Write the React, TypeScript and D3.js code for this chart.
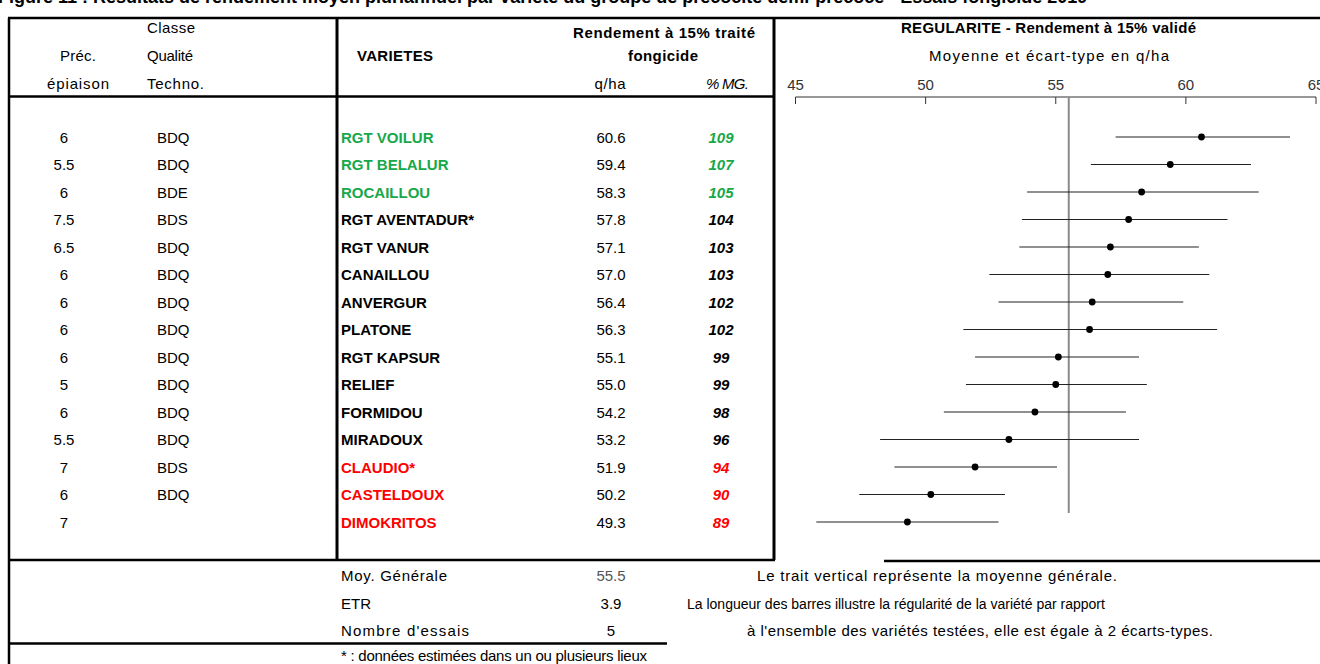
import React from "react";
import * as d3 from "d3";

// ---- data ----
const varietes = [
  "RGT VOILUR", "RGT BELALUR", "ROCAILLOU", "RGT AVENTADUR*", "RGT VANUR",
  "CANAILLOU", "ANVERGUR", "PLATONE", "RGT KAPSUR", "RELIEF",
  "FORMIDOU", "MIRADOUX", "CLAUDIO*", "CASTELDOUX", "DIMOKRITOS",
];
const precEpiaison = ["6", "5.5", "6", "7.5", "6.5", "6", "6", "6", "6", "5", "6", "5.5", "7", "6", "7"];
const classeQualite = ["BDQ", "BDQ", "BDE", "BDS", "BDQ", "BDQ", "BDQ", "BDQ", "BDQ", "BDQ", "BDQ", "BDQ", "BDS", "BDQ", ""];
const rendement = [60.6, 59.4, 58.3, 57.8, 57.1, 57.0, 56.4, 56.3, 55.1, 55.0, 54.2, 53.2, 51.9, 50.2, 49.3];
const pctMG = [109, 107, 105, 104, 103, 103, 102, 102, 99, 99, 98, 96, 94, 90, 89];
// group: 1 = above, 0 = middle, -1 = below
const groupe = [1, 1, 1, 0, 0, 0, 0, 0, 0, 0, 0, 0, -1, -1, -1];
// regularity bars (low / high end, q/ha)
const barBas = [57.3, 56.35, 53.9, 53.7, 53.6, 52.45, 52.8, 51.45, 51.9, 51.55, 50.7, 48.25, 48.8, 47.45, 45.8];
const barHaut = [64.0, 62.5, 62.8, 61.6, 60.5, 60.9, 59.9, 61.2, 58.2, 58.5, 57.7, 58.2, 55.05, 53.05, 52.8];
const axisTicks = [45, 50, 55, 60, 65];
const moyGenerale = 55.5;
const etr = 3.9;
const nbEssais = 5;

const FONT = "'Liberation Sans', Arial, sans-serif";
const GREEN = "#16a849";
const RED = "#ff0000";

const colorOf = (g: number) => (g > 0 ? GREEN : g < 0 ? RED : "#000");

// text with a fixed drawn width (the source spreads its letters)
const T = ({ x, y, w, anchor, children, ...rest }: any) => (
  <text x={x} y={y} textAnchor={anchor} textLength={w} lengthAdjust="spacing" {...rest}>
    {children}
  </text>
);

const App = () => {
  const width = 1320;
  const height = 664;

  const x = d3.scaleLinear().domain([45, 65]).range([795.5, 1316]);
  const y = d3.scalePoint<string>().domain(varietes).range([137, 522]);
  const axisY = 97;

  const txt = { fontFamily: FONT, fontSize: 15 } as React.CSSProperties;

  return (
    <svg
      width={width}
      height={height}
      style={{ position: "absolute", left: 0, top: 0, background: "#fff" }}
    >
      {/* clipped figure title */}
      <text x={-2} y={3} style={{ fontFamily: FONT, fontSize: 18, fontWeight: "bold" }}>
        Figure 11 : Résultats de rendement moyen pluriannuel par variété du groupe de précocité demi-précoce - Essais fongicide 2019
      </text>

      {/* table frame */}
      <g stroke="#000" fill="none">
        <line x1={8} x2={width} y1={18} y2={18} strokeWidth={2.5} />
        <line x1={9} x2={9} y1={18} y2={664} strokeWidth={2.5} />
        <line x1={337} x2={337} y1={18} y2={560} strokeWidth={3} />
        <line x1={774} x2={774} y1={18} y2={560} strokeWidth={3} />
        <line x1={8} x2={775} y1={96.5} y2={96.5} strokeWidth={2.5} />
        <line x1={8} x2={775} y1={560} y2={560} strokeWidth={2.5} />
        <line x1={884} x2={width} y1={561} y2={561} strokeWidth={2.5} />
        <line x1={8} x2={667} y1={643.5} y2={643.5} strokeWidth={2.5} />
      </g>

      {/* header */}
      <g style={txt} fill="#000">
        <T x={147} y={33} w={48}>Classe</T>
        <T x={78} y={61} w={36} anchor="middle">Préc.</T>
        <T x={147} y={61} w={46}>Qualité</T>
        <T x={78} y={89} w={62} anchor="middle">épiaison</T>
        <T x={147} y={89} w={57}>Techno.</T>
        <T x={357} y={61} w={76} fontWeight="bold">VARIETES</T>
        <T x={573} y={38} w={182} fontWeight="bold">Rendement à 15% traité</T>
        <T x={663} y={61} w={70} anchor="middle" fontWeight="bold">fongicide</T>
        <T x={610} y={89} w={31} anchor="middle">q/ha</T>
        <T x={749} y={89} w={43} anchor="end" fontStyle="italic">% MG.</T>
        <T x={901} y={33} w={295} fontWeight="bold">REGULARITE - Rendement à 15% validé</T>
        <T x={1049} y={61} w={240} anchor="middle">Moyenne et écart-type en q/ha</T>
      </g>

      {/* table rows */}
      <g style={txt}>
        {varietes.map((v, i) => {
          const cy = (y(v) as number) + 5.5;
          const c = colorOf(groupe[i]);
          return (
            <g key={v}>
              <text x={64} y={cy} textAnchor="middle">{precEpiaison[i]}</text>
              <text x={157} y={cy}>{classeQualite[i]}</text>
              <text x={341} y={cy} fill={c} fontWeight="bold">{v}</text>
              <text x={611} y={cy} textAnchor="middle">{rendement[i].toFixed(1)}</text>
              <text x={721} y={cy} textAnchor="middle" fill={c} fontWeight="bold" fontStyle="italic">
                {pctMG[i]}
              </text>
            </g>
          );
        })}
      </g>

      {/* axis */}
      <g style={txt}>
        <line x1={x(45)} x2={x(65)} y1={axisY} y2={axisY} stroke="#333" strokeWidth={1} />
        {axisTicks.map((t) => (
          <g key={t}>
            <line x1={x(t)} x2={x(t)} y1={axisY} y2={axisY + 7} stroke="#333" />
            <text x={x(t)} y={axisY - 7} textAnchor="middle" fill="#333">{t}</text>
          </g>
        ))}
      </g>

      {/* mean line */}
      <line x1={x(moyGenerale)} x2={x(moyGenerale)} y1={axisY} y2={513} stroke="#8a8a8a" strokeWidth={2} />

      {/* regularity bars */}
      <g>
        {varietes.map((v, i) => {
          const cy = y(v) as number;
          return (
            <g key={v}>
              <line x1={x(barBas[i])} x2={x(barHaut[i])} y1={cy} y2={cy} stroke="#222" strokeWidth={1.2} />
              <circle cx={x(rendement[i])} cy={cy} r={3.4} fill="#000" />
            </g>
          );
        })}
      </g>

      {/* bottom block */}
      <g style={txt}>
        <T x={341} y={581} w={106}>Moy. Générale</T>
        <text x={611} y={581} textAnchor="middle" fill="#555">{moyGenerale.toFixed(1)}</text>
        <text x={341} y={609}>ETR</text>
        <text x={611} y={609} textAnchor="middle">{etr.toFixed(1)}</text>
        <T x={341} y={636} w={128}>Nombre d'essais</T>
        <text x={611} y={636} textAnchor="middle">{nbEssais}</text>
        <T x={757} y={581} w={360}>Le trait vertical représente la moyenne générale.</T>
        <text x={687} y={609} style={{ fontSize: 14 }}>La longueur des barres illustre la régularité de la variété par rapport</text>
        <T x={747} y={636} w={466}>à l'ensemble des variétés testées, elle est égale à 2 écarts-types.</T>
        <T x={341} y={661} w={306}>* : données estimées dans un ou plusieurs lieux</T>
      </g>
    </svg>
  );
};

export default App;
